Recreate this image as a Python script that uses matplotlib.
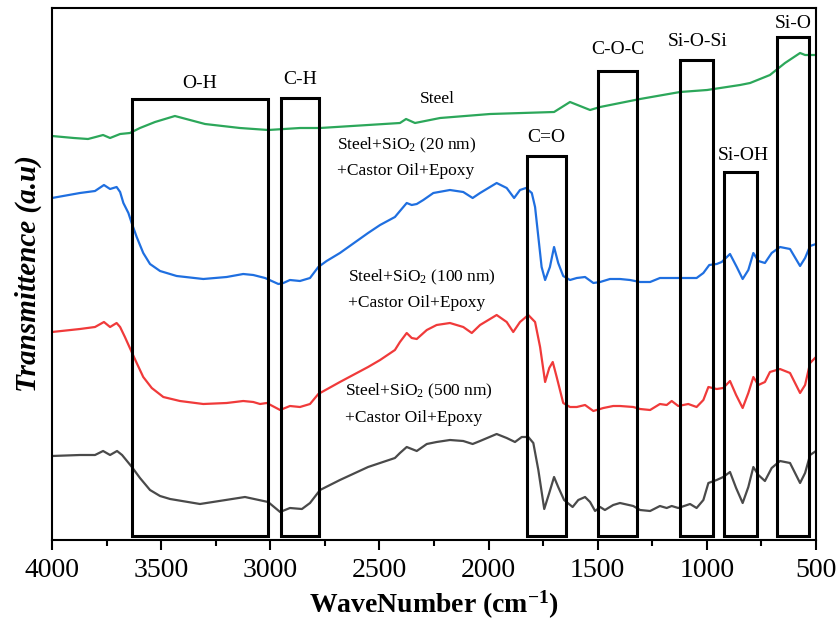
import matplotlib
matplotlib.use("Agg")
import matplotlib.pyplot as plt
from matplotlib.patches import Rectangle
from matplotlib.ticker import MultipleLocator

plt.rcParams['font.family'] = ['Liberation Serif', 'DejaVu Serif']
plt.rcParams['mathtext.fontset'] = 'custom'
plt.rcParams['mathtext.rm'] = 'Liberation Serif'
plt.rcParams['mathtext.it'] = 'Liberation Serif:italic'
plt.rcParams['mathtext.bf'] = 'Liberation Serif:bold'

# ---------------- data ----------------
steel_wn = [4000, 3900, 3835, 3800, 3766, 3734, 3688, 3643, 3597, 3528, 3437, 3368, 3299,
            3139, 3010, 2864, 2772, 2406, 2378, 2337, 2222, 1993, 1700, 1627, 1535, 1489,
            1306, 1123, 999, 848, 802, 711, 642, 573, 550, 500]
steel_t = [404, 402, 401, 403, 405, 402, 406, 407, 412, 418, 424, 420, 416,
           412, 410, 412, 412, 417, 421, 417, 422, 426, 428, 438, 430, 433,
           441, 448, 450, 455, 457, 465, 477, 487, 485, 485]

sio2_20_wn = [4000, 3872, 3803, 3762, 3734, 3704, 3688, 3673, 3650, 3635,
              3612, 3582, 3551, 3505, 3429, 3307, 3200, 3124, 3078, 3024,
              2963, 2940, 2910, 2864, 2818, 2780, 2742, 2681, 2552, 2497,
              2429, 2406, 2375, 2352, 2329, 2299, 2253, 2177, 2116, 2073,
              2039, 1963, 1917, 1883, 1856, 1829, 1802, 1787, 1772, 1757,
              1741, 1719, 1700, 1681, 1658, 1627, 1596, 1558, 1520, 1489,
              1444, 1398, 1352, 1306, 1260, 1215, 1169, 1092, 1047, 1016,
              989, 955, 932, 894, 863, 836, 810, 787, 764, 734,
              703, 665, 619, 573, 550, 527, 500]
sio2_20_t = [342, 347, 349, 355, 351, 353, 348, 337, 327, 317,
             303, 287, 276, 269, 264, 261, 263, 266, 265, 262,
             256, 257, 260, 259, 262, 273, 279, 287, 307, 315,
             323, 329, 337, 335, 336, 340, 347, 350, 348, 342,
             347, 357, 352, 342, 350, 352, 347, 333, 303, 273,
             260, 273, 293, 277, 264, 260, 262, 263, 257, 258,
             261, 261, 260, 258, 258, 262, 262, 262, 262, 267,
             275, 276, 278, 286, 273, 261, 270, 287, 279, 277,
             287, 293, 291, 274, 282, 294, 296]

sio2_100_wn = [4000, 3872, 3803, 3762, 3734, 3704, 3688, 3666, 3635, 3612,
               3582, 3543, 3490, 3414, 3307, 3200, 3124, 3078, 3047, 3016,
               2955, 2910, 2864, 2818, 2780, 2681, 2552, 2497, 2429, 2406,
               2375, 2352, 2329, 2283, 2238, 2177, 2116, 2077, 2039, 1963,
               1917, 1887, 1856, 1818, 1787, 1764, 1741, 1722, 1706, 1688,
               1658, 1627, 1596, 1558, 1520, 1474, 1429, 1398, 1337, 1306,
               1260, 1215, 1184, 1161, 1131, 1085, 1047, 1016, 993, 955,
               925, 894, 866, 836, 810, 787, 764, 734, 711, 665,
               619, 573, 550, 527, 500]
sio2_100_t = [208, 211, 213, 218, 213, 217, 213, 203, 188, 177,
              163, 152, 143, 139, 136, 137, 139, 138, 136, 137,
              130, 134, 133, 136, 146, 158, 173, 180, 190, 198,
              207, 202, 201, 210, 215, 217, 213, 207, 215, 225,
              218, 208, 218, 225, 218, 193, 158, 172, 178, 163,
              137, 133, 133, 135, 129, 132, 134, 134, 133, 131,
              130, 136, 135, 139, 134, 136, 133, 140, 153, 151,
              152, 159, 145, 132, 147, 163, 155, 158, 168, 171,
              167, 147, 155, 177, 183]

sio2_500_wn = [4000, 3872, 3803, 3766, 3734, 3702, 3679, 3634, 3597, 3551, 3505, 3459,
               3322, 3116, 3010, 2955, 2910, 2855, 2818, 2772, 2681, 2552,
               2429, 2406, 2375, 2352, 2329, 2283, 2238, 2177, 2116, 2073,
               2039, 1963, 1917, 1879, 1848, 1818, 1795, 1772, 1745, 1722,
               1700, 1681, 1654, 1615, 1589, 1558, 1535, 1512, 1489, 1467,
               1429, 1398, 1337, 1306, 1260, 1215, 1184, 1161, 1131, 1077,
               1047, 1016, 993, 955, 925, 894, 866, 836, 810, 787,
               764, 734, 703, 665, 619, 573, 550, 527, 500]
sio2_500_t = [84, 85, 85, 89, 85, 89, 85, 73, 62, 50, 44, 41,
              36, 43, 38, 28, 32, 31, 37, 50, 60, 73,
              82, 87, 93, 91, 89, 96, 98, 100, 99, 96,
              99, 106, 102, 98, 103, 103, 97, 70, 31, 47,
              63, 53, 40, 33, 40, 43, 38, 29, 33, 30,
              35, 37, 34, 30, 29, 34, 32, 34, 32, 36,
              32, 40, 57, 60, 63, 68, 52, 37, 53, 73,
              65, 59, 72, 79, 77, 57, 67, 85, 89]

band_names = ['O-H', 'C-H', 'C=O', 'C-O-C', 'Si-O-Si', 'Si-OH', 'Si-O']
band_hi = [3634, 2952, 1824, 1500, 1125, 922, 679]
band_lo = [3010, 2775, 1647, 1321, 973, 770, 531]
band_top = [441, 442, 384, 469, 480, 368, 503]
band_label_x = [3322, 2864, 1737, 1407, 1041, 834, 605]
band_label_y = [457, 460, 403, 491, 498, 385, 517]

# ---------------- figure ----------------
fig = plt.figure(figsize=(8.38, 6.26), dpi=100)
ax = fig.add_axes([52/838, 86/626, 764/838, 532/626])

ax.plot(steel_wn, steel_t, color='#2ca75a', lw=1.6)
ax.plot(sio2_20_wn, sio2_20_t, color='#1f6fe0', lw=1.6)
ax.plot(sio2_100_wn, sio2_100_t, color='#f03a3a', lw=1.6)
ax.plot(sio2_500_wn, sio2_500_t, color='#4a4a4a', lw=1.6)

box_bottom = 4
for name, hi, lo, top, lx, ly in zip(band_names, band_hi, band_lo, band_top,
                                     band_label_x, band_label_y):
    ax.add_patch(Rectangle((lo, box_bottom), hi - lo, top - box_bottom,
                           fill=False, edgecolor='black', lw=2.2, zorder=3))
    ax.text(lx, ly, name, fontsize=14, ha='center', va='center')

ax.text(2236, 441, 'Steel', fontsize=12.5, ha='center', va='center')
ax.text(2694, 395, 'Steel+SiO$_2$ (20 nm)', fontsize=12.5, ha='left', va='center')
ax.text(2694, 369, '+Castor Oil+Epoxy', fontsize=12.5, ha='left', va='center')
ax.text(2644, 263, 'Steel+SiO$_2$ (100 nm)', fontsize=12.5, ha='left', va='center')
ax.text(2644, 237, '+Castor Oil+Epoxy', fontsize=12.5, ha='left', va='center')
ax.text(2658, 149, 'Steel+SiO$_2$ (500 nm)', fontsize=12.5, ha='left', va='center')
ax.text(2658, 122, '+Castor Oil+Epoxy', fontsize=12.5, ha='left', va='center')

ax.set_xlim(4000, 500)
ax.set_ylim(0, 532)
ax.set_yticks([])
ax.xaxis.set_major_locator(MultipleLocator(500))
ax.xaxis.set_minor_locator(MultipleLocator(250))
ax.tick_params(axis='x', which='major', direction='out', length=7, width=1.5,
               labelsize=20, pad=6)
ax.tick_params(axis='x', which='minor', direction='out', length=4, width=1.5)
for s in ax.spines.values():
    s.set_linewidth(1.5)

ax.set_xlabel(r'WaveNumber (cm$^{\mathbf{-1}}$)', fontsize=20, fontweight='bold', labelpad=4)
ax.set_ylabel('Transmittence (a.u)', fontsize=21, fontweight='bold', style='italic',
              labelpad=7)

fig.savefig('out.png', dpi=100)
